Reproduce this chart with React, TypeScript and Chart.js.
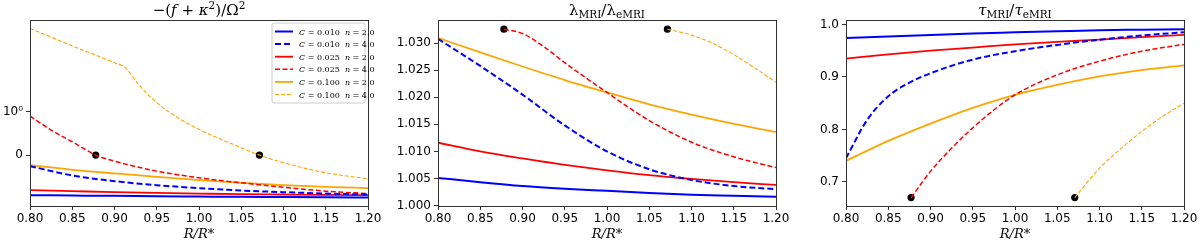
import React, { useEffect, useRef } from 'react';
import { Chart, registerables } from 'chart.js';

Chart.register(...registerables);

// ---------------- data ----------------
const R_GRID = [0.8, 0.85, 0.9, 0.95, 1.0, 1.05, 1.1, 1.15, 1.2];
const X_TICKS = [0.8, 0.85, 0.9, 0.95, 1.0, 1.05, 1.1, 1.15, 1.2];

const C_VALUES = ['0.010', '0.010', '0.025', '0.025', '0.100', '0.100'];
const N_VALUES = ['2.0', '4.0', '2.0', '4.0', '2.0', '4.0'];

// Panel 1: -(f+kappa^2)/Omega^2 (symlog axis)
const P1_C010_N2 = [-0.93, -0.938, -0.946, -0.953, -0.961, -0.969, -0.972, -0.977, -0.985];
const P1_C010_N4 = [-0.256, -0.473, -0.605, -0.698, -0.767, -0.822, -0.86, -0.892, -0.915];
const P1_C025_N2 = [-0.814, -0.837, -0.86, -0.876, -0.892, -0.907, -0.915, -0.923, -0.93];
const P1_C025_N4_R = [0.8, 0.825, 0.85, 0.8778, 0.9, 0.95, 1.0, 1.05, 1.1, 1.15, 1.2];
const P1_C025_N4 = [0.907, 0.58, 0.31, 0, -0.14, -0.372, -0.527, -0.643, -0.744, -0.837, -0.892];
const P1_C100_N2 = [-0.232, -0.341, -0.426, -0.504, -0.582, -0.643, -0.698, -0.736, -0.767];
const P1_C100_N4_R = [0.8, 0.85, 0.9, 0.9125, 0.93, 0.95, 0.975, 1.0, 1.05, 1.0715, 1.1, 1.15, 1.2];
const P1_C100_N4 = [142, 50.8, 18.5, 14.0, 4.7, 1.74, 0.868, 0.597, 0.171, 0, -0.178, -0.411, -0.55];
const P1_DOT_R = [0.8778, 1.0715];
const P1_DOT_V = [0, 0];
const P1_RANGE = [-1.59, 235];
const P1_TICKS = [0, 1];
const P1_TICK_LABELS = ['0', '10⁰'];

// Panel 2: lambda_MRI / lambda_eMRI
const P2_C010_N2 = [1.0051, 1.0043, 1.0036, 1.0031, 1.0027, 1.0023, 1.002, 1.0018, 1.0016];
const P2_C010_N4 = [1.0308, 1.0258, 1.0205, 1.0148, 1.01, 1.0067, 1.0047, 1.0036, 1.003];
const P2_C025_N2 = [1.0116, 1.01, 1.0087, 1.0075, 1.0065, 1.0056, 1.0049, 1.0043, 1.0038];
const P2_C025_N4_R = [0.878, 0.9, 0.925, 0.95, 0.975, 1.0, 1.025, 1.05, 1.1, 1.15, 1.2];
const P2_C025_N4 = [1.0326, 1.0318, 1.0294, 1.0264, 1.0236, 1.0209, 1.0182, 1.0157, 1.0117, 1.009, 1.007];
const P2_C100_N2 = [1.031, 1.0283, 1.0257, 1.0232, 1.0209, 1.0187, 1.0168, 1.0151, 1.0136];
const P2_C100_N4_R = [1.0715, 1.1, 1.125, 1.15, 1.175, 1.2];
const P2_C100_N4 = [1.0326, 1.0315, 1.03, 1.0279, 1.0254, 1.0228];
const P2_DOT_R = [0.878, 1.0715];
const P2_DOT_V = [1.0326, 1.0326];
const P2_RANGE = [0.9999, 1.0343];
const P2_TICKS = [1.0, 1.005, 1.01, 1.015, 1.02, 1.025, 1.03];

// Panel 3: tau_MRI / tau_eMRI
const P3_C010_N2 = [0.974, 0.977, 0.98, 0.983, 0.985, 0.987, 0.989, 0.99, 0.991];
const P3_C010_N4_R = [0.8, 0.825, 0.85, 0.875, 0.9, 0.95, 1.0, 1.05, 1.1, 1.15, 1.2];
const P3_C010_N4 = [0.745, 0.818, 0.863, 0.889, 0.907, 0.933, 0.949, 0.961, 0.971, 0.979, 0.985];
const P3_C025_N2 = [0.935, 0.943, 0.95, 0.956, 0.962, 0.967, 0.971, 0.976, 0.98];
const P3_C025_N4_R = [0.877, 0.9, 0.925, 0.95, 0.975, 1.0, 1.05, 1.1, 1.15, 1.2];
const P3_C025_N4 = [0.67, 0.72, 0.764, 0.803, 0.837, 0.866, 0.904, 0.93, 0.949, 0.962];
const P3_C100_N2 = [0.74, 0.778, 0.811, 0.841, 0.866, 0.885, 0.901, 0.913, 0.922];
const P3_C100_N4_R = [1.0707, 1.1, 1.125, 1.15, 1.175, 1.2];
const P3_C100_N4 = [0.67, 0.726, 0.763, 0.796, 0.825, 0.85];
const P3_DOT_R = [0.877, 1.0707];
const P3_DOT_V = [0.67, 0.67];
const P3_RANGE = [0.654, 1.0085];
const P3_TICKS = [0.7, 0.8, 0.9, 1.0];

// ---------------- styles ----------------
const FONT_SANS = '"DejaVu Sans", sans-serif';
const FONT_SERIF = '"DejaVu Serif", serif';

const STYLES = [
  { color: '#0000ff', width: 2, dash: [] as number[] },
  { color: '#0000ff', width: 2, dash: [6, 3] },
  { color: '#ff0000', width: 1.8, dash: [] as number[] },
  { color: '#ff0000', width: 1.5, dash: [5, 2.5] },
  { color: '#ffa500', width: 1.8, dash: [] as number[] },
  { color: '#ffa500', width: 1.1, dash: [4, 2] },
];

// symlog transform (linthresh = 1, linscale = 1, base 10)
const LINTHRESH = 1;
const LOG_BASE = 10;
const LIN_K = 1 / (1 - 1 / LOG_BASE);
function symlog(v: number): number {
  const a = Math.abs(v);
  if (a <= LINTHRESH) return (v / LINTHRESH) * LIN_K * LINTHRESH;
  return Math.sign(v) * LINTHRESH * (LIN_K + Math.log10(a / LINTHRESH));
}

type Seg = { t: string; it?: boolean; sub?: boolean; sup?: boolean };

function drawRich(ctx: CanvasRenderingContext2D, segs: Seg[], x: number, baseline: number, size: number, align: 'left' | 'center') {
  const fontFor = (s: Seg) => `${s.it ? 'italic ' : ''}${s.sub || s.sup ? Math.round(size * 0.7 * 10) / 10 : size}px ${FONT_SERIF}`;
  let total = 0;
  const widths = segs.map((s) => {
    ctx.font = fontFor(s);
    const w = ctx.measureText(s.t).width;
    total += w;
    return w;
  });
  let cx = align === 'center' ? x - total / 2 : x;
  ctx.textAlign = 'left';
  ctx.textBaseline = 'alphabetic';
  ctx.fillStyle = '#000';
  segs.forEach((s, i) => {
    ctx.font = fontFor(s);
    let y = baseline;
    if (s.sub) y += size * 0.22;
    if (s.sup) y -= size * 0.38;
    ctx.fillText(s.t, cx, y);
    cx += widths[i];
  });
}

function makeLine(xs: number[], ys: number[], idx: number, f: (v: number) => number = (v) => v) {
  const st = STYLES[idx];
  return {
    type: 'line' as const,
    label: `C = ${C_VALUES[idx]} n = ${N_VALUES[idx]}`,
    data: xs.map((x, i) => ({ x, y: f(ys[i]) })),
    borderColor: st.color,
    backgroundColor: st.color,
    borderWidth: st.width,
    borderDash: st.dash,
    pointRadius: 0,
    fill: false,
    cubicInterpolationMode: 'monotone' as const,
    order: 0,
  };
}

function makeDots(xs: number[], ys: number[], f: (v: number) => number = (v) => v) {
  return {
    type: 'scatter' as const,
    label: 'onset',
    data: xs.map((x, i) => ({ x, y: f(ys[i]) })),
    pointRadius: 3.6,
    pointBackgroundColor: '#000',
    pointBorderColor: '#000',
    pointBorderWidth: 0,
    showLine: false,
    clip: false as any,
    order: 5,
  };
}

const gridOpts = { drawOnChartArea: false, drawTicks: true, tickLength: 4, color: '#333', lineWidth: 1 };

function xAxis() {
  return {
    type: 'linear',
    min: 0.8,
    max: 1.2,
    afterBuildTicks: (s: any) => {
      s.ticks = X_TICKS.map((v) => ({ value: v }));
    },
    afterFit: (s: any) => {
      s.height = 40;
    },
    ticks: {
      callback: (v: any) => Number(v).toFixed(2),
      font: { family: FONT_SANS, size: 12 },
      color: '#000',
      padding: 2,
      maxRotation: 0,
      autoSkip: false,
    },
    grid: gridOpts,
    border: { display: false },
    title: {
      display: true,
      text: 'R/R*',
      font: { family: FONT_SERIF, style: 'italic', size: 13 },
      color: '#000',
      padding: { top: 0, bottom: 4 },
    },
  };
}

function yAxis(min: number, max: number, ticks: number[], label: (v: number) => string, width: number) {
  return {
    type: 'linear',
    min,
    max,
    afterBuildTicks: (s: any) => {
      s.ticks = ticks.map((v) => ({ value: v }));
    },
    afterFit: (s: any) => {
      s.width = width;
    },
    ticks: {
      callback: (v: any) => label(Number(v)),
      font: { family: FONT_SANS, size: 12 },
      color: '#000',
      padding: 3,
      autoSkip: false,
    },
    grid: gridOpts,
    border: { display: false },
  };
}

const framePlugin = {
  id: 'frame',
  afterDraw(chart: any) {
    const { ctx, chartArea: a } = chart;
    ctx.save();
    ctx.strokeStyle = '#333';
    ctx.lineWidth = 1;
    ctx.setLineDash([]);
    ctx.strokeRect(Math.round(a.left) + 0.5, Math.round(a.top) + 0.5, Math.round(a.right - a.left), Math.round(a.bottom - a.top));
    ctx.restore();
  },
};

function titlePlugin(segs: Seg[]) {
  return {
    id: 'mathTitle',
    afterDraw(chart: any) {
      const { ctx, chartArea: a } = chart;
      ctx.save();
      drawRich(ctx, segs, (a.left + a.right) / 2, 15, 15, 'center');
      ctx.restore();
    },
  };
}

const legendPlugin = {
  id: 'boxLegend',
  afterDraw(chart: any) {
    const { ctx, chartArea: a } = chart;
    const w = 93;
    const h = 80;
    const x0 = a.right - w - 3;
    const y0 = a.top + 3;
    ctx.save();
    const r = 2;
    ctx.beginPath();
    ctx.moveTo(x0 + r, y0);
    ctx.lineTo(x0 + w - r, y0);
    ctx.quadraticCurveTo(x0 + w, y0, x0 + w, y0 + r);
    ctx.lineTo(x0 + w, y0 + h - r);
    ctx.quadraticCurveTo(x0 + w, y0 + h, x0 + w - r, y0 + h);
    ctx.lineTo(x0 + r, y0 + h);
    ctx.quadraticCurveTo(x0, y0 + h, x0, y0 + h - r);
    ctx.lineTo(x0, y0 + r);
    ctx.quadraticCurveTo(x0, y0, x0 + r, y0);
    ctx.closePath();
    ctx.fillStyle = 'rgba(255,255,255,0.85)';
    ctx.fill();
    ctx.strokeStyle = '#cccccc';
    ctx.lineWidth = 1;
    ctx.stroke();
    C_VALUES.forEach((c, i) => {
      const st = STYLES[i];
      const yc = y0 + 8.5 + i * 12.6;
      ctx.beginPath();
      ctx.setLineDash(st.dash);
      ctx.strokeStyle = st.color;
      ctx.lineWidth = st.width;
      ctx.moveTo(x0 + 3, yc);
      ctx.lineTo(x0 + 21, yc);
      ctx.stroke();
      ctx.setLineDash([]);
      drawRich(
        ctx,
        [
          { t: 'C', it: true },
          { t: ' = ' + c + '  ' },
          { t: 'n', it: true },
          { t: ' = ' + N_VALUES[i] },
        ],
        x0 + 27,
        yc + 3,
        8,
        'left'
      );
    });
    ctx.restore();
  },
};

function baseOptions(padRight: number, xax: any, yax: any) {
  return {
    animation: false,
    responsive: false,
    maintainAspectRatio: false,
    devicePixelRatio: 1,
    layout: { padding: { top: 20, right: padRight, left: 0, bottom: 0 } },
    plugins: { legend: { display: false }, tooltip: { enabled: false }, title: { display: false } },
    scales: { x: xax, y: yax },
  };
}

function config1(): any {
  return {
    type: 'line',
    data: {
      datasets: [
        makeLine(R_GRID, P1_C010_N2, 0, symlog),
        makeLine(R_GRID, P1_C010_N4, 1, symlog),
        makeLine(R_GRID, P1_C025_N2, 2, symlog),
        makeLine(P1_C025_N4_R, P1_C025_N4, 3, symlog),
        makeLine(R_GRID, P1_C100_N2, 4, symlog),
        makeLine(P1_C100_N4_R, P1_C100_N4, 5, symlog),
        makeDots(P1_DOT_R, P1_DOT_V, symlog),
      ],
    },
    options: baseOptions(
      32,
      xAxis(),
      yAxis(
        symlog(P1_RANGE[0]),
        symlog(P1_RANGE[1]),
        P1_TICKS.map(symlog),
        (v) => {
          const i = P1_TICKS.findIndex((t) => Math.abs(symlog(t) - v) < 1e-9);
          return i >= 0 ? P1_TICK_LABELS[i] : '';
        },
        30
      )
    ),
    plugins: [
      framePlugin,
      titlePlugin([
        { t: '−(' },
        { t: 'f', it: true },
        { t: ' + ' },
        { t: 'κ', it: true },
        { t: '2', sup: true },
        { t: ')/Ω' },
        { t: '2', sup: true },
      ]),
      legendPlugin,
    ],
  };
}

function config2(): any {
  return {
    type: 'line',
    data: {
      datasets: [
        makeLine(R_GRID, P2_C010_N2, 0),
        makeLine(R_GRID, P2_C010_N4, 1),
        makeLine(R_GRID, P2_C025_N2, 2),
        makeLine(P2_C025_N4_R, P2_C025_N4, 3),
        makeLine(R_GRID, P2_C100_N2, 4),
        makeLine(P2_C100_N4_R, P2_C100_N4, 5),
        makeDots(P2_DOT_R, P2_DOT_V),
      ],
    },
    options: baseOptions(24, xAxis(), yAxis(P2_RANGE[0], P2_RANGE[1], P2_TICKS, (v) => v.toFixed(3), 58)),
    plugins: [
      framePlugin,
      titlePlugin([
        { t: 'λ' },
        { t: 'MRI', sub: true },
        { t: '/λ' },
        { t: 'eMRI', sub: true },
      ]),
    ],
  };
}

function config3(): any {
  return {
    type: 'line',
    data: {
      datasets: [
        makeLine(R_GRID, P3_C010_N2, 0),
        makeLine(P3_C010_N4_R, P3_C010_N4, 1),
        makeLine(R_GRID, P3_C025_N2, 2),
        makeLine(P3_C025_N4_R, P3_C025_N4, 3),
        makeLine(R_GRID, P3_C100_N2, 4),
        makeLine(P3_C100_N4_R, P3_C100_N4, 5),
        makeDots(P3_DOT_R, P3_DOT_V),
      ],
    },
    options: baseOptions(16, xAxis(), yAxis(P3_RANGE[0], P3_RANGE[1], P3_TICKS, (v) => v.toFixed(1), 46)),
    plugins: [
      framePlugin,
      titlePlugin([
        { t: 'τ', it: true },
        { t: 'MRI', sub: true },
        { t: '/' },
        { t: 'τ', it: true },
        { t: 'eMRI', sub: true },
      ]),
    ],
  };
}

function Panel({ left, width, build }: { left: number; width: number; build: () => any }) {
  const ref = useRef<HTMLCanvasElement>(null);
  useEffect(() => {
    const chart = new Chart(ref.current as HTMLCanvasElement, build());
    return () => chart.destroy();
  }, []);
  return (
    <canvas
      ref={ref}
      width={width}
      height={246}
      style={{ position: 'absolute', left, top: 0, width, height: 246 }}
    />
  );
}

export default function App() {
  return (
    <div style={{ position: 'absolute', left: 0, top: 0, width: 1200, height: 246, background: '#fff', overflow: 'hidden' }}>
      <Panel left={0} width={400} build={config1} />
      <Panel left={380} width={420} build={config2} />
      <Panel left={800} width={400} build={config3} />
    </div>
  );
}
